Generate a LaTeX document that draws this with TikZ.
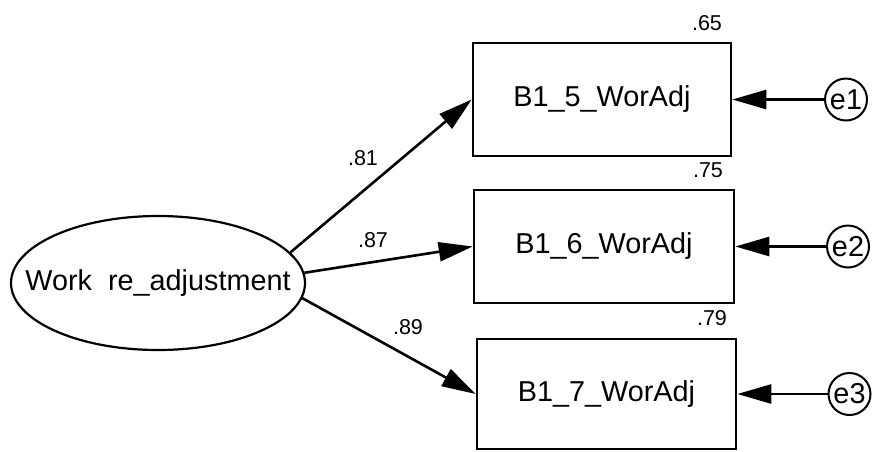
\documentclass[tikz,border=0pt]{standalone}
\usepackage{fontspec}
\setmainfont{Liberation Sans}
\usetikzlibrary{shapes.geometric,arrows.meta}
\tikzset{
  obs/.style={draw, line width=2.6pt, rectangle, inner sep=0pt, font=\fontsize{28.8}{34}\selectfont},
  lat/.style={draw, line width=2.2pt, ellipse, inner sep=0pt, minimum width=294pt, minimum height=134pt},
  lattext/.style={inner sep=0pt, font=\fontsize{28.8}{34}\selectfont},
  err/.style={draw, line width=2pt, circle, inner sep=0pt, minimum size=42pt, font=\fontsize{28.8}{34}\selectfont},
  lbl/.style={inner sep=0pt, font=\fontsize{21.5}{26}\selectfont},
  arr/.style={line width=2.6pt, -{Triangle[length=34pt,width=19pt]}}
}
\begin{document}
\begin{tikzpicture}[x=1pt,y=-1pt]
\useasboundingbox (0,0) rectangle (872,451);
\node[lat] (ell) at (158,283) {};
\node[lattext] (ellt) at (ell.center) {Work\ \ re\_adjustment};
\node[obs, minimum width=258pt, minimum height=113pt] (b1) at (602,99.5) {B1\_5\_WorAdj};
\node[obs, minimum width=260pt, minimum height=113pt] (b2) at (604,246.5) {B1\_6\_WorAdj};
\node[obs, minimum width=259pt, minimum height=110pt] (b3) at (606.5,394) {B1\_7\_WorAdj};
\node[err] (e1) at (846,99.5) {e1};
\node[err] (e2) at (848,246.5) {e2};
\node[err] (e3) at (849.5,394) {e3};
\draw[arr] (ell.13) -- (b1.west);
\draw[arr] (ell.4) -- (b2.west);
\draw[arr] (ell.-6) -- (b3.west);
\draw[arr] (e1) -- (b1);
\draw[arr] (e2) -- (b2);
\draw[arr] (e3) -- (b3);
\node[lbl] (r1) at (707,23) {.65};
\node[lbl] (r2) at (708,170) {.75};
\node[lbl] (r3) at (712,318) {.79};
\node[lbl] (w1) at (363,158) {.81};
\node[lbl] (w2) at (373,240) {.87};
\node[lbl] (w3) at (408,327) {.89};
\end{tikzpicture}
\end{document}
